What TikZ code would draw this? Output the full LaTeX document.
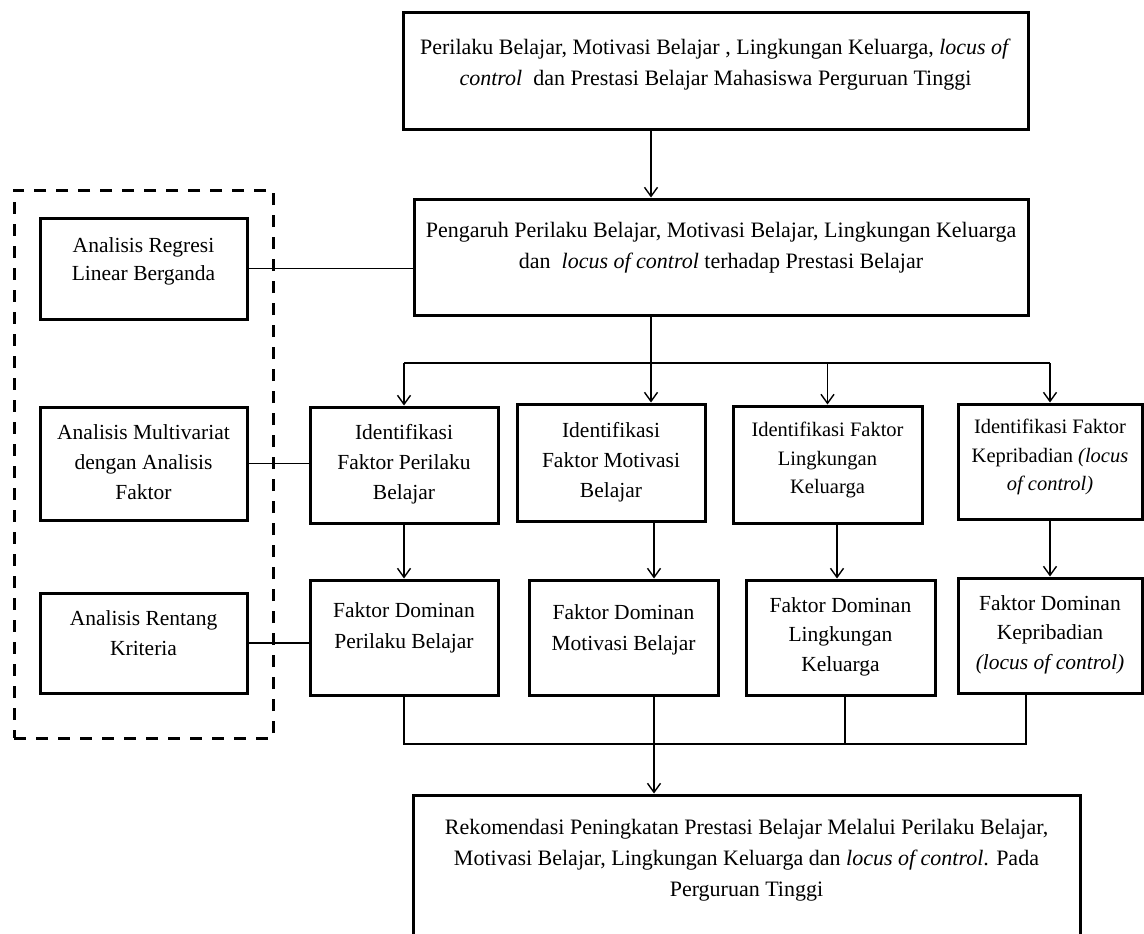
\documentclass[tikz,border=0pt]{standalone}
\usepackage{fontspec}
\setmainfont{Liberation Serif}
\usetikzlibrary{arrows.meta}
\begin{document}
\begin{tikzpicture}[x=1pt,y=-1pt,
  box/.style={draw, line width=3pt, inner sep=0pt},
  txt/.style={anchor=north, align=center, inner sep=0pt, font=\fontsize{21.5}{30}\selectfont},
  wtxt/.style={txt, font=\fontsize{22}{31}\selectfont},
  ntxt/.style={txt, font=\fontsize{20.5}{28.5}\selectfont},
  ln/.style={line width=1.4pt},
  arr/.style={ln, -{Straight Barb[length=9pt,width=13pt,line width=1.4pt]}},
  grpbox/.style={draw, line width=3pt, dash pattern=on 12pt off 10pt, inner sep=0pt}
]
\useasboundingbox (0,0) rectangle (1144,934);
\clip (0,0) rectangle (1144,934);

% group frame
\node[grpbox, minimum width=259pt, minimum height=548pt] (grp) at (143.5,464) {};

% boxes
\node[box, minimum width=625pt, minimum height=116pt] (top) at (715.5,71) {};
\node[box, minimum width=614pt, minimum height=116pt] (peng) at (721,257) {};
\node[box, minimum width=207pt, minimum height=101pt] (reg) at (143.5,268.5) {};
\node[box, minimum width=207pt, minimum height=113pt] (mult) at (143.5,463.5) {};
\node[box, minimum width=207pt, minimum height=100pt] (rent) at (143.5,643) {};
\node[box, minimum width=188pt, minimum height=116pt] (i1) at (404,465) {};
\node[box, minimum width=188pt, minimum height=117pt] (i2) at (611,462.5) {};
\node[box, minimum width=189pt, minimum height=117pt] (i3) at (827.5,464.5) {};
\node[box, minimum width=184pt, minimum height=115pt] (i4) at (1050,461.5) {};
\node[box, minimum width=188pt, minimum height=115pt] (f1) at (404,637.5) {};
\node[box, minimum width=189pt, minimum height=115pt] (f2) at (623.5,637.5) {};
\node[box, minimum width=189pt, minimum height=115pt] (f3) at (840.5,637.5) {};
\node[box, minimum width=184pt, minimum height=115pt] (f4) at (1050,635.5) {};
\node[box, minimum width=667pt, minimum height=180pt] (bot) at (746.5,885) {};

% texts
\node[wtxt] (topt) at (715.5,39) {Perilaku Belajar, Motivasi Belajar , Lingkungan Keluarga, \textit{locus of}\\\textit{control}\ \ dan Prestasi Belajar Mahasiswa Perguruan Tinggi};
\node[wtxt] (pengt) at (721,222) {Pengaruh Perilaku Belajar, Motivasi Belajar, Lingkungan Keluarga\\dan\ \ \textit{locus of control} terhadap Prestasi Belajar};
\node[txt, font=\fontsize{21.5}{28.5}\selectfont] (regt) at (143.5,237) {Analisis Regresi\\Linear Berganda};
\node[txt] (multt) at (143.5,424) {Analisis Multivariat\\dengan Analisis\\Faktor};
\node[txt] (rentt) at (143.5,610) {Analisis Rentang\\Kriteria};
\node[txt] (i1t) at (404,424) {Identifikasi\\Faktor Perilaku\\Belajar};
\node[txt] (i2t) at (611,422) {Identifikasi\\Faktor Motivasi\\Belajar};
\node[ntxt] (i3t) at (827.5,422) {Identifikasi Faktor\\Lingkungan\\Keluarga};
\node[ntxt] (i4t) at (1050,419) {Identifikasi Faktor\\Kepribadian \textit{(locus}\\\textit{of control)}};
\node[txt, font=\fontsize{21.5}{31}\selectfont] (f1t) at (404,602) {Faktor Dominan\\Perilaku Belajar};
\node[txt, font=\fontsize{21.5}{31}\selectfont] (f2t) at (623.5,604) {Faktor Dominan\\Motivasi Belajar};
\node[txt, font=\fontsize{21.5}{29.5}\selectfont] (f3t) at (840.5,597) {Faktor Dominan\\Lingkungan\\Keluarga};
\node[txt, font=\fontsize{21.5}{29.5}\selectfont] (f4t) at (1050,595) {Faktor Dominan\\Kepribadian\\\textit{(locus of control)}};
\node[wtxt] (bott) at (746.5,819) {Rekomendasi Peningkatan Prestasi Belajar Melalui Perilaku Belajar,\\Motivasi Belajar, Lingkungan Keluarga dan \textit{locus of control}. Pada\\Perguruan Tinggi};

% helper coordinates
\coordinate (busT) at (651,363);
\coordinate (busB) at (654,744);
\coordinate (c3) at (837,0);
\coordinate (o3) at (845,744);
\coordinate (o4) at (1026,744);

% connectors
\draw[arr] (top.south -| busT) -- (peng.north -| busT);
\draw[arr] (peng.south -| busT) -- (i2.north -| busT);
\draw[ln] (busT -| i1.north) -- (busT -| i4.north);
\draw[arr] (busT -| i1.north) -- (i1.north);
\draw[arr] (busT -| i3.north) -- (i3.north);
\draw[arr] (busT -| i4.north) -- (i4.north);

\draw[arr] (i1.south) -- (f1.north);
\draw[arr] (i2.south -| busB) -- (f2.north -| busB);
\draw[arr] (i3.south -| c3) -- (f3.north -| c3);
\draw[arr] (i4.south) -- (f4.north);

\draw[ln] (f1.south) -- (busB -| f1.south) -- (o4) -- (o4 |- f4.south);
\draw[ln] (o3 |- f3.south) -- (o3);
\draw[arr] (f2.south -| busB) -- (bot.north -| busB);

\draw[ln] (reg.east) -- (reg.east -| peng.west);
\draw[ln] (mult.east) -- (mult.east -| i1.west);
\draw[ln] (rent.east) -- (rent.east -| f1.west);
\end{tikzpicture}
\end{document}
